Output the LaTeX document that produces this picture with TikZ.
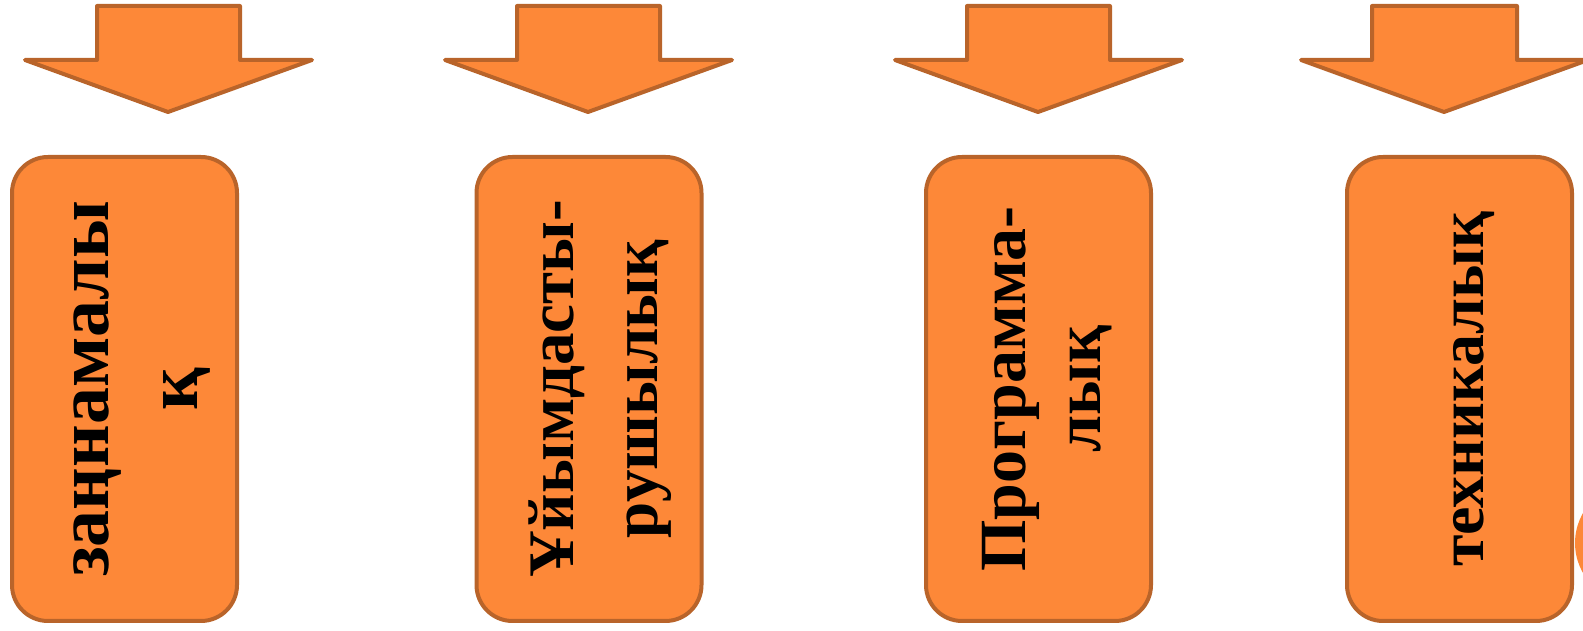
\documentclass[tikz,border=0pt]{standalone}
\usepackage{fontspec}
\setmainfont{Liberation Serif}
\definecolor{boxfill}{RGB}{253,136,56}
\definecolor{boxline}{RGB}{185,100,42}
\tikzset{
  shapeline/.style={draw=boxline, fill=boxfill, line width=4pt, line join=round},
  stage/.style={shapeline, rectangle, rounded corners=36pt, minimum width=225pt, minimum height=464pt, inner sep=0pt},
  downarrow/.style={shapeline},
  label/.style={rotate=90, anchor=base, inner sep=0pt, font=\bfseries},
}
\newcommand{\downblock}[6]{% name, shaft left, shaft right, wing left, wing right, tip x
  \draw[downarrow] (#2,625) -- (#3,625) -- (#3,571) -- (#5,571) -- (#6,519)
    -- (#4,571) -- (#2,571) -- cycle;
  \coordinate (#1) at (#6,519);
}
\begin{document}
\begin{tikzpicture}[x=1pt,y=1pt]
\useasboundingbox (0,0) rectangle (1583,631);

% block arrows along the top
\downblock{a1}{97}{240}{25}{312}{168}
\downblock{a2}{517}{660}{445}{732}{588}
\downblock{a3}{967}{1110}{895}{1182}{1038}
\downblock{a4}{1372}{1517}{1301}{1588}{1444}

% partly visible disc at the right edge
\begin{scope}
\clip (0,0) rectangle (1583,631);
\fill[boxfill] (1635,88) circle (60);
\end{scope}

% the four stages
\node[stage] (b1) at (124.5,242) {};
\node[stage] (b2) at (589,242) {};
\node[stage] (b3) at (1038.5,242) {};
\node[stage] (b4) at (1459.5,242) {};

% rotated captions, one node per line, placed on their baselines
\node[label, font=\bfseries\fontsize{74}{85}\selectfont] (t1a) at (108,242) {заңнамалы};
\node[label, font=\bfseries\fontsize{74}{85}\selectfont] (t1b) at (197,242) {қ};
\node[label, font=\bfseries\fontsize{65}{75}\selectfont] (t2a) at (573,242) {Ұйымдасты-};
\node[label, font=\bfseries\fontsize{65}{75}\selectfont] (t2b) at (657,242) {рушылық};
\node[label, font=\bfseries\fontsize{66}{76}\selectfont] (t3a) at (1025,242) {Программа-};
\node[label, font=\bfseries\fontsize{66}{76}\selectfont] (t3b) at (1100,242) {лық};
\node[label, font=\bfseries\fontsize{64}{74}\selectfont] (t4) at (1483,242) {техникалық};
\end{tikzpicture}
\end{document}
